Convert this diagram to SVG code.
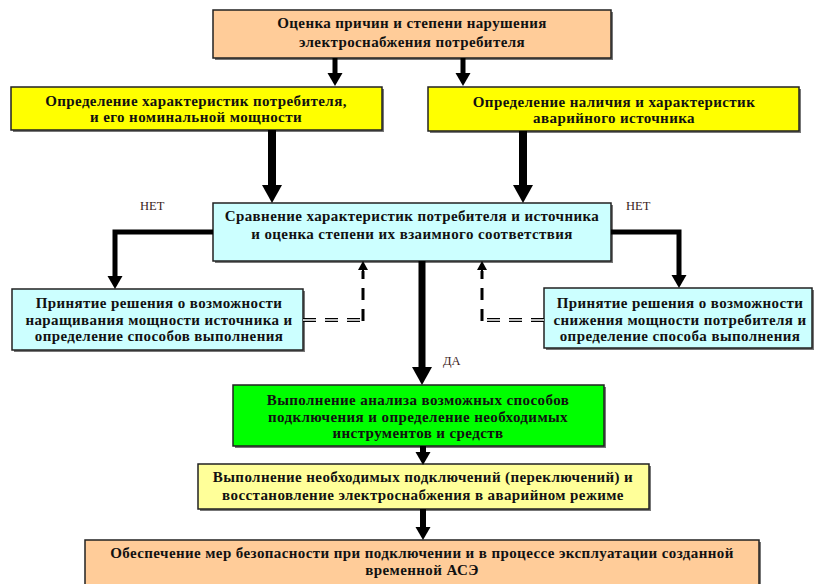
<svg xmlns="http://www.w3.org/2000/svg" width="815" height="584" viewBox="0 0 815 584">
<style>
.box{stroke:#222;stroke-width:1.5}
.sh{fill:#777}
.t{font-family:"Liberation Serif","Times New Roman",serif;font-weight:bold;font-size:15px;letter-spacing:0.4px;fill:#111;text-anchor:middle}
.lbl{font-family:"Liberation Serif","Times New Roman",serif;font-size:12.5px;fill:#3a2020}
.c{fill:none;stroke:#000;stroke-linejoin:miter}
.dv{fill:none;stroke:#000;stroke-width:3;stroke-dasharray:12 9}
.dd{fill:none;stroke:#000;stroke-width:4;stroke-dasharray:13 9}
.ddw{fill:none;stroke:#fff;stroke-width:1.3;stroke-dasharray:13 9}
</style>
<defs>
<marker id="mBig" markerUnits="userSpaceOnUse" orient="auto" overflow="visible" markerWidth="20" markerHeight="20" refX="0" refY="0"><path d="M0,-10 L18,0 L0,10 z" fill="#000"/></marker>
<marker id="mMid" markerUnits="userSpaceOnUse" orient="auto" overflow="visible" markerWidth="16" markerHeight="16" refX="0" refY="0"><path d="M0,-7.5 L13,0 L0,7.5 z" fill="#000"/></marker>
<marker id="mSm" markerUnits="userSpaceOnUse" orient="auto" overflow="visible" markerWidth="10" markerHeight="10" refX="0" refY="0"><path d="M0,-5 L9,0 L0,5 z" fill="#000"/></marker>
</defs>

<g id="n1">
<rect class="sh" x="215" y="12" width="398" height="48"/>
<rect class="box" x="213" y="10" width="398" height="48" fill="#FFCC99"/>
<text class="t" x="412" y="28">Оценка причин и степени нарушения</text>
<text class="t" x="412" y="47">электроснабжения потребителя</text>
</g>
<g id="n2">
<rect class="sh" x="13" y="89" width="371" height="43"/>
<rect class="box" x="11" y="87" width="371" height="43" fill="#FFFF00"/>
<text class="t" x="196" y="106">Определение характеристик потребителя,</text>
<text class="t" x="196" y="122">и его номинальной мощности</text>
</g>
<g id="n3">
<rect class="sh" x="430" y="89" width="371" height="44"/>
<rect class="box" x="428" y="87" width="371" height="44" fill="#FFFF00"/>
<text class="t" x="614" y="107">Определение наличия и характеристик</text>
<text class="t" x="614" y="123">аварийного источника</text>
</g>
<g id="n4">
<rect class="sh" x="215" y="205" width="398" height="58"/>
<rect class="box" x="213" y="203" width="398" height="58" fill="#CCFFFF"/>
<text class="t" x="412" y="221">Сравнение характеристик потребителя и источника</text>
<text class="t" x="412" y="239">и оценка степени их взаимного соответствия</text>
</g>
<g id="n5">
<rect class="sh" x="14" y="291" width="291" height="61"/>
<rect class="box" x="12" y="289" width="291" height="61" fill="#CCFFFF"/>
<text class="t" x="159" y="308">Принятие решения о возможности</text>
<text class="t" x="159" y="325">наращивания мощности источника и</text>
<text class="t" x="159" y="341">определение способов выполнения</text>
</g>
<g id="n6">
<rect class="sh" x="546" y="290" width="268" height="60"/>
<rect class="box" x="544" y="288" width="268" height="60" fill="#CCFFFF"/>
<text class="t" x="680" y="308">Принятие решения о возможности</text>
<text class="t" x="680" y="325">снижения мощности потребителя и</text>
<text class="t" x="680" y="341">определение способа выполнения</text>
</g>
<g id="n7">
<rect class="sh" x="235" y="387" width="371" height="61"/>
<rect class="box" x="233" y="385" width="371" height="61" fill="#00FF00"/>
<text class="t" x="418" y="405">Выполнение анализа возможных способов</text>
<text class="t" x="418" y="422">подключения и определение необходимых</text>
<text class="t" x="418" y="438">инструментов и средств</text>
</g>
<g id="n8">
<rect class="sh" x="200" y="466" width="451" height="45"/>
<rect class="box" x="198" y="464" width="451" height="45" fill="#FFFF99"/>
<text class="t" x="423" y="482">Выполнение необходимых подключений (переключений) и</text>
<text class="t" x="423" y="500">восстановление электроснабжения в аварийном режиме</text>
</g>
<g id="n9">
<rect class="sh" x="87" y="542" width="674" height="50"/>
<rect class="box" x="85" y="540" width="674" height="50" fill="#FFCC99"/>
<text class="t" x="422" y="558">Обеспечение мер безопасности при подключении и в процессе эксплуатации созданной</text>
<text class="t" x="422" y="575">временной АСЭ</text>
</g>

<g id="connectors">
<path class="c" stroke-width="5" d="M335,58 V73" marker-end="url(#mMid)"/>
<path class="c" stroke-width="5" d="M463,58 V73" marker-end="url(#mMid)"/>
<path class="c" stroke-width="8" d="M272,130 V185" marker-end="url(#mBig)"/>
<path class="c" stroke-width="8" d="M523,131 V185" marker-end="url(#mBig)"/>
<path class="c" stroke-width="5" d="M213,232 H115 V276" marker-end="url(#mMid)"/>
<path class="c" stroke-width="5" d="M611,232 H679 V275" marker-end="url(#mMid)"/>
<path class="c" stroke-width="7" d="M422,261 V367" marker-end="url(#mBig)"/>
<path class="c" stroke-width="6" d="M423,446 V452" marker-end="url(#mMid)"/>
<path class="c" stroke-width="6" d="M423,509 V527" marker-end="url(#mMid)"/>
<path class="dd" d="M303,320 H363"/>
<path class="ddw" d="M303,320 H363"/>
<path class="dv" d="M363,321 V271"/>
<path class="c" stroke-width="2" d="M363,272 V270" marker-end="url(#mSm)"/>
<path class="dd" d="M544,320 H482"/>
<path class="ddw" d="M544,320 H482"/>
<path class="dv" d="M482,321 V271"/>
<path class="c" stroke-width="2" d="M482,272 V270" marker-end="url(#mSm)"/>
<text class="lbl" x="140" y="210">НЕТ</text>
<text class="lbl" x="626" y="210">НЕТ</text>
<text class="lbl" x="443" y="365">ДА</text>
</g>
</svg>
